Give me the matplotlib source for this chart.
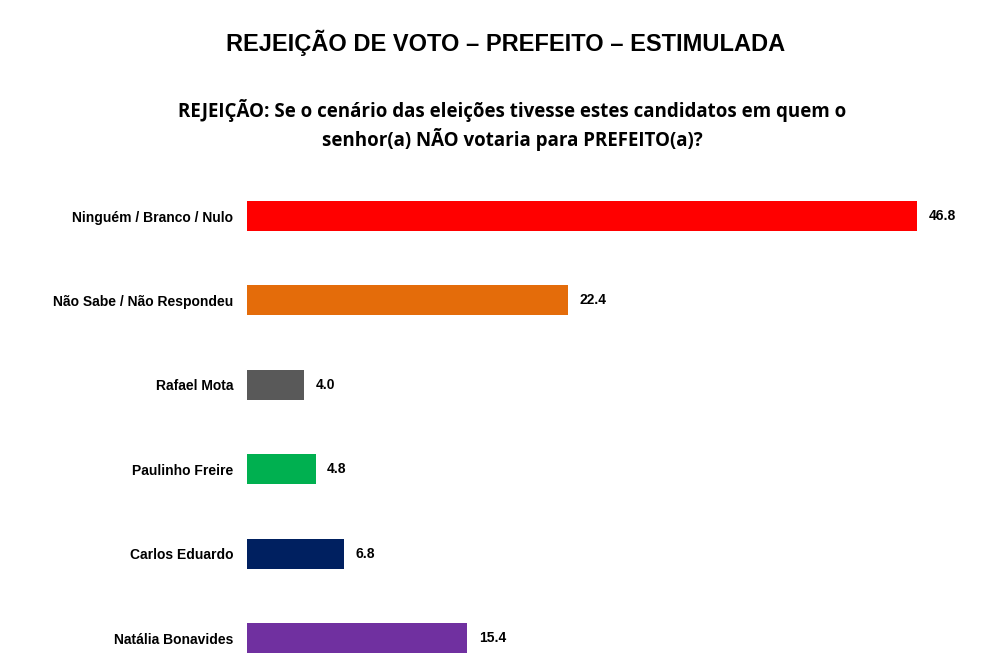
import matplotlib
matplotlib.use("Agg")
import matplotlib.pyplot as plt

categories = ["Ninguém / Branco / Nulo", "Não Sabe / Não Respondeu", "Rafael Mota",
              "Paulinho Freire", "Carlos Eduardo", "Natália Bonavides"]
values = [46.8, 22.4, 4.0, 4.8, 6.8, 15.4]
colors = ["#ff0000", "#e46c0a", "#595959", "#00b050", "#002060", "#7030a0"]

plt.rcParams['font.family'] = ['Liberation Sans', 'DejaVu Sans']
fig = plt.figure(figsize=(9.85, 6.67), dpi=100)
ax = fig.add_axes([247/985, (667-680.2)/667, (917-247)/985, (680.2-173.8)/667])
y = list(range(len(categories)))
ax.barh(y, values, height=0.355, color=colors)
ax.set_xlim(0, 46.8)
ax.set_ylim(5.5, -0.5)
ax.set_yticks(y)
ax.set_yticklabels(categories, fontsize=10, fontweight='bold')
ax.tick_params(axis='y', length=0, pad=10)
ax.set_xticks([])
for s in ax.spines.values():
    s.set_visible(False)
for yi, v in zip(y, values):
    ax.text(v + 0.8, yi, f"{v:.1f}", va='center', ha='left', fontsize=10, fontweight='bold')

fig.text(0.513, 1 - 43/667, "REJEIÇÃO DE VOTO – PREFEITO – ESTIMULADA", ha='center', va='center',
         fontsize=17, fontweight='bold')
fig.text(0.52, 1 - 125/667, "REJEIÇÃO: Se o cenário das eleições tivesse estes candidatos em quem o\nsenhor(a) NÃO votaria para PREFEITO(a)?",
         ha='center', va='center', fontsize=13.5, fontweight='bold', family=['Open Sans', 'DejaVu Sans'],
         linespacing=1.35)
fig.savefig("out.png", dpi=100)
